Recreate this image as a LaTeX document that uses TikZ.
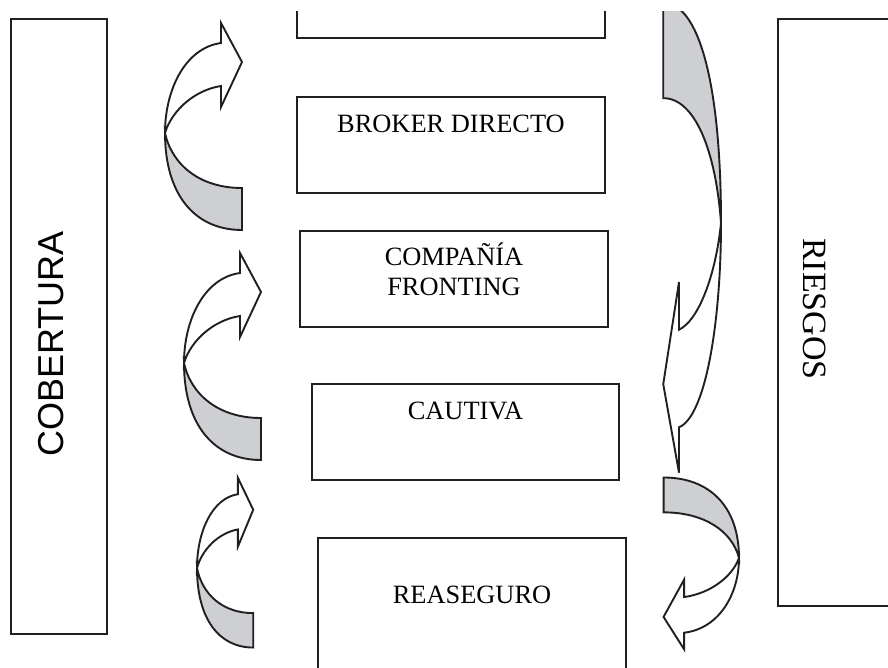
\documentclass[tikz,border=0pt]{standalone}
\usepackage{fontspec}
\setmainfont{Liberation Serif}
\newfontfamily\arialfont{Liberation Sans}
\usetikzlibrary{positioning}
\definecolor{bandgray}{RGB}{205,207,210}
\definecolor{inkline}{RGB}{35,31,32}

\newcommand{\bentarrow}[3]{%
	\begin{scope}[shift={#1},xscale=#2,yscale=#3]
		\filldraw[band] (0,0) .. controls (0,62) and (30,97) .. (77,97) -- (77,55) .. controls (35,55) and (7,32) .. (0,0) -- cycle;
		\filldraw[front] (0,0) .. controls (0,-43) and (20,-85) .. (56,-90) -- (56,-110) -- (77,-71) -- (56,-26) -- (56,-47) .. controls (30,-43) and (7,-23) .. (0,0) -- cycle;
	\end{scope}}

\begin{document}
\begin{tikzpicture}[x=1pt,y=-1pt,
		box/.style={draw=inkline,line width=1.9pt,minimum width=308pt,minimum height=96pt,inner sep=0pt},
		boxtext/.style={font=\fontsize{26.4}{30}\selectfont,align=center,anchor=base,inner sep=0pt},
		band/.style={draw=inkline,line width=1.9pt,fill=bandgray},
		front/.style={draw=inkline,line width=1.9pt,fill=white}]
	\useasboundingbox (0,0) rectangle (888,668);
	\clip (0,12) rectangle (888,668);
	\node[box,minimum width=96pt,minimum height=615pt] (cobertura) at (59,326.5) {};
	\node[rotate=90,font=\arialfont\fontsize{36}{40}\selectfont] (cobtext) at (51,344) {COBERTURA};
	\node[box,minimum width=132pt,minimum height=587pt] (riesgos) at (844,312.5) {};
	\node[rotate=-90,font=\fontsize{34}{38}\selectfont] (riestext) at (815,309) {RIESGOS};
	\node[box] (topbox) at (451,-10) {};
	\node[box] (broker) at (451,145) {};
	\node[boxtext] (brokertext) at ([yshift=-36pt]broker.north) {BROKER DIRECTO};
	\node[box] (fronting) at (454,279) {};
	\node[boxtext] (frontingtext) at ([yshift=-65pt]fronting.north) {COMPAÑÍA\\FRONTING};
	\node[box,minimum width=307pt] (cautiva) at (465.5,432) {};
	\node[boxtext] (cautivatext) at ([yshift=-36pt]cautiva.north) {CAUTIVA};
	\node[box,minimum height=164pt] (reaseguro) at (472,620) {};
	\node[boxtext] (reasegurotext) at ([yshift=-66pt]reaseguro.north) {REASEGURO};
	\bentarrow{(165,133)}{1}{1}
	\bentarrow{(184,363)}{1}{1}
	\bentarrow{(197,568)}{0.73}{0.82}
	\bentarrow{(721,223)}{-0.75}{-2.27}
	\bentarrow{(739,558)}{-0.98}{-0.83}
\end{tikzpicture}
\end{document}
